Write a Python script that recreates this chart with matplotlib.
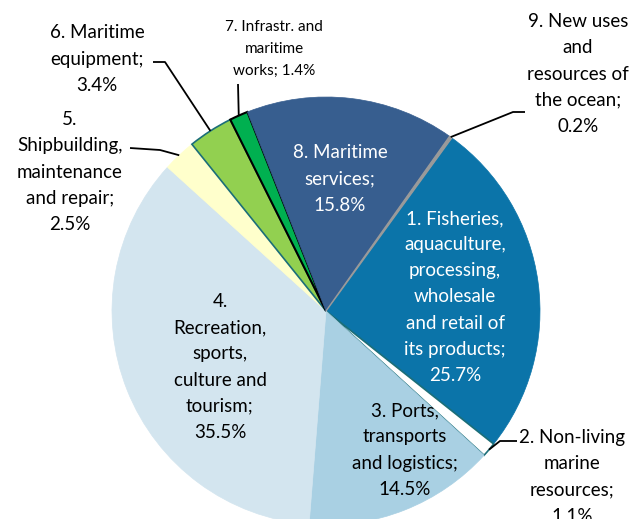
import numpy as np
import matplotlib
matplotlib.use('Agg')
import matplotlib.pyplot as plt

plt.rcParams['font.family'] = ['Lato', 'DejaVu Sans']

# sector labels and shares (%)
labels = ['1. Fisheries,\naquaculture,\nprocessing,\nwholesale\nand retail of\nits products;\n25.7%',
          '2. Non-living\nmarine\nresources;\n1.1%',
          '3. Ports,\ntransports\nand logistics;\n14.5%',
          '4.\nRecreation,\nsports,\nculture and\ntourism;\n35.5%',
          '5.\nShipbuilding,\nmaintenance\nand repair;\n2.5%',
          '6. Maritime\nequipment;\n3.4%',
          '7. Infrastr. and\nmaritime\nworks; 1.4%',
          '8. Maritime\nservices;\n15.8%',
          '9. New uses\nand\nresources of\nthe ocean;\n0.2%']
shares = [25.7, 1.1, 14.5, 35.5, 2.5, 3.4, 1.4, 15.8, 0.2]

colors = ['#0B74A9', '#FFFFFF', '#A9D0E3', '#D3E5EF', '#FFFFCC',
          '#92D050', '#00B050', '#375E8F', '#9A9A9A']
edges = ['#0B74A9', '#1B6E78', '#A9D0E3', '#D3E5EF', '#FFFFCC',
         '#1B6E78', '#000000', '#375E8F', '#9A9A9A']
edge_w = [0.5, 1.2, 0.5, 0.5, 0.5, 1.2, 1.5, 0.5, 1.0]

W, H = 633, 519
fig = plt.figure(figsize=(W / 100, H / 100), dpi=100)
ax = fig.add_axes([0, 0, 1, 1])
ax.set_aspect('equal')

cx, cy, r = 326, H - 311, 214
wedges, _ = ax.pie(shares, colors=colors, startangle=54, counterclock=False,
                   radius=r, center=(cx, cy), frame=True)
for w, ec, lw in zip(wedges, edges, edge_w):
    w.set_edgecolor(ec)
    w.set_linewidth(lw)
ax.set_xlim(0, W)
ax.set_ylim(0, H)
ax.axis('off')


def rim(i):
    w = wedges[i]
    a = np.deg2rad((w.theta1 + w.theta2) / 2)
    return cx + r * np.cos(a), cy + r * np.sin(a)


fs = 13.5
ls = 1.65
# labels inside the pie (pixel positions from top-left)
inside = {0: (455, 297, 'white'), 2: (405, 450, 'black'),
          3: (220, 367, 'black'), 7: (340, 179, 'white')}
for i, (x, y, c) in inside.items():
    ax.text(x, H - y, labels[i], ha='center', va='center', color=c,
            fontsize=fs, linespacing=ls)

# outside labels with leader lines: text pos, elbow, line end
outside = {
    8: ((578, 74), (513, 112), (525, 112)),
    1: ((572, 477), (500, 441), (517, 441)),
    5: ((97, 59), (165, 62), (153, 62)),
    4: ((70, 172), (160, 150), (130, 148)),
    6: ((274, 49), (238, 84), (238, 84)),
}
for i, ((tx, ty), (ex, ey), (lx, ly)) in outside.items():
    if i == 6:
        size, spacing = 11, 1.72
    else:
        size, spacing = fs, ls
    ax.text(tx, H - ty, labels[i], ha='center', va='center', color='black',
            fontsize=size, linespacing=spacing)
    sx, sy = rim(i)
    ax.plot([sx, ex, lx], [sy, H - ey, H - ly], color='black', lw=1.3,
            solid_capstyle='butt')

fig.savefig('out.png', dpi=100)
